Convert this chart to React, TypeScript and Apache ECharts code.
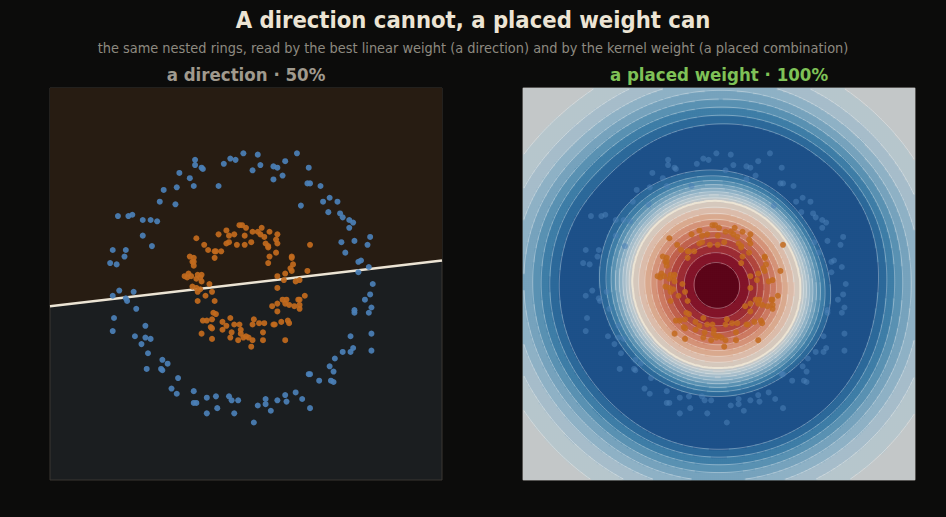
import React, { useEffect, useRef } from "react";
import * as echarts from "echarts";

const pageTitle = "A direction cannot, a placed weight can";
const pageSubtitle =
  "the same nested rings, read by the best linear weight (a direction) and by the kernel weight (a placed combination)";
const leftTitle = "a direction · 50%";
const rightTitle = "a placed weight · 100%";

const axisMin = -1.5;
const axisMax = 1.5;

// outer ring (class −1, blue)
const outerRing: [number, number][] = [
  [-0.02, 1.0], [0.09, 0.99], [0.39, 1.0], [-0.12, 0.96], [-0.08, 0.95], [-0.39, 0.95], [-0.39, 0.91],
  [-0.17, 0.92], [0.11, 0.91], [0.3, 0.94], [0.21, 0.9], [0.24, 0.89], [-0.34, 0.89], [-0.33, 0.88],
  [-0.51, 0.85], [0.05, 0.87], [0.28, 0.83], [0.48, 0.89], [-0.43, 0.81], [0.21, 0.8], [-0.4, 0.75],
  [-0.21, 0.75], [-0.53, 0.74], [-0.63, 0.72], [0.47, 0.77], [0.49, 0.77], [0.57, 0.75], [-0.66, 0.63],
  [-0.54, 0.61], [0.59, 0.63], [0.64, 0.66], [0.7, 0.63], [0.42, 0.6], [0.63, 0.55], [-0.98, 0.52],
  [-0.9, 0.52], [-0.87, 0.53], [-0.79, 0.49], [-0.73, 0.49], [-0.68, 0.48], [0.72, 0.54], [0.74, 0.51],
  [0.79, 0.49], [0.82, 0.47], [0.79, 0.43], [-0.79, 0.37], [-0.72, 0.29], [0.95, 0.36], [0.73, 0.32],
  [0.83, 0.33], [0.93, 0.3], [-1.02, 0.26], [-0.92, 0.26], [0.76, 0.24], [-0.93, 0.21], [-1.04, 0.16],
  [-0.99, 0.15], [0.86, 0.17], [0.88, 0.18], [0.94, 0.13], [0.86, 0.09], [0.97, 0.0], [-0.97, -0.05],
  [-0.86, -0.06], [-1.02, -0.09], [-0.92, -0.11], [-0.91, -0.13], [-0.84, -0.19], [0.95, -0.08],
  [0.91, -0.12], [0.96, -0.18], [0.83, -0.2], [0.83, -0.22], [0.94, -0.22], [-1.01, -0.26], [-1.02, -0.36],
  [-0.77, -0.32], [-0.85, -0.4], [-0.77, -0.41], [-0.73, -0.42], [-0.8, -0.46], [-0.75, -0.53], [0.8, -0.4],
  [0.96, -0.38], [0.96, -0.51], [0.82, -0.49], [0.8, -0.52], [0.74, -0.52], [0.68, -0.57], [-0.64, -0.58],
  [-0.6, -0.61], [-0.65, -0.65], [-0.64, -0.66], [-0.76, -0.65], [0.64, -0.63], [0.67, -0.67], [-0.52, -0.72],
  [0.48, -0.69], [0.49, -0.69], [0.56, -0.74], [0.65, -0.74], [0.67, -0.75], [-0.57, -0.8], [-0.53, -0.84],
  [-0.4, -0.82], [-0.3, -0.87], [-0.23, -0.86], [-0.13, -0.86], [-0.11, -0.89], [-0.06, -0.89], [-0.4, -0.91],
  [-0.38, -0.91], [-0.3, -0.99], [-0.22, -0.95], [-0.09, -0.99], [0.15, -0.88], [0.15, -0.92], [0.24, -0.89],
  [0.3, -0.85], [0.31, -0.9], [0.38, -0.83], [0.43, -0.88], [0.09, -0.93], [0.19, -0.97], [0.49, -0.95],
  [0.06, -1.06],
];

// inner ring (class +1, orange)
const innerRing: [number, number][] = [
  [-0.05, 0.45], [-0.03, 0.45], [0.0, 0.43], [0.12, 0.43], [-0.15, 0.41], [0.05, 0.4], [0.09, 0.4],
  [0.11, 0.38], [0.14, 0.36], [0.18, 0.4], [0.24, 0.38], [-0.38, 0.35], [-0.21, 0.38], [-0.13, 0.37],
  [-0.09, 0.38], [-0.01, 0.37], [0.23, 0.34], [0.24, 0.31], [-0.32, 0.3], [-0.15, 0.31], [-0.13, 0.32],
  [-0.07, 0.3], [-0.01, 0.3], [0.04, 0.32], [0.15, 0.31], [0.17, 0.29], [0.17, 0.28], [0.49, 0.3],
  [-0.29, 0.26], [-0.24, 0.25], [-0.23, 0.25], [-0.19, 0.25], [0.23, 0.24], [0.18, 0.21], [-0.24, 0.2],
  [-0.43, 0.21], [-0.4, 0.2], [-0.4, 0.17], [-0.41, 0.17], [-0.4, 0.14], [0.35, 0.21], [0.35, 0.2],
  [0.17, 0.16], [0.36, 0.15], [0.34, 0.12], [0.35, 0.1], [0.3, 0.08], [0.47, 0.1], [-0.44, 0.08],
  [-0.47, 0.06], [-0.45, 0.05], [-0.42, 0.06], [-0.37, 0.07], [-0.34, 0.07], [-0.35, 0.05], [-0.38, 0.04],
  [-0.34, 0.02], [-0.28, 0.0], [0.24, 0.06], [0.29, 0.03], [0.38, 0.02], [0.41, 0.03], [-0.41, -0.02],
  [-0.38, -0.03], [-0.35, -0.04], [-0.37, -0.06], [-0.26, -0.06], [-0.31, -0.09], [-0.37, -0.13],
  [-0.24, -0.13], [0.24, -0.03], [0.28, -0.12], [0.31, -0.12], [0.3, -0.15], [0.24, -0.15], [0.45, -0.09],
  [0.4, -0.12], [0.41, -0.12], [0.33, -0.16], [0.37, -0.17], [0.41, -0.16], [0.41, -0.19], [0.2, -0.17],
  [0.24, -0.21], [-0.25, -0.22], [-0.23, -0.23], [-0.33, -0.28], [-0.3, -0.28], [-0.26, -0.27],
  [-0.18, -0.29], [-0.12, -0.26], [-0.27, -0.33], [-0.26, -0.34], [-0.18, -0.35], [-0.15, -0.32],
  [-0.09, -0.31], [-0.05, -0.31], [0.06, -0.27], [0.05, -0.31], [0.1, -0.3], [0.14, -0.3], [0.21, -0.31],
  [0.22, -0.31], [0.27, -0.29], [0.32, -0.28], [0.33, -0.3], [-0.04, -0.35], [-0.04, -0.38], [-0.34, -0.38],
  [-0.26, -0.42], [-0.12, -0.41], [-0.11, -0.37], [-0.02, -0.41], [0.0, -0.4], [0.02, -0.41], [0.05, -0.43],
  [-0.06, -0.43], [0.13, -0.43], [0.13, -0.37], [0.3, -0.43], [0.04, -0.48],
];

// best linear boundary (left panel), endpoints at the axis edges
const linearBoundary: [number, number][] = [
  [-1.5, -0.17],
  [1.5, 0.18],
];

// kernel weight settings
const kernelGamma = 3.2;
const outerWeight = 1.7;
const kernelBias = 0;
const fieldCells = 196;
const negFloor = 1.04;

const bandEdges = [-1.1, -0.8, -0.7, -0.6, -0.5, -0.4, -0.3, -0.2, -0.1, 0, 0.1, 0.2, 0.3, 0.4, 0.5, 0.6, 0.7, 0.8, 0.9, 1.01];
const bandColors = [
  "#1e5089", "#2c699a", "#3f7ea7", "#5a91b2", "#77a3bd", "#8fb1c5", "#a6bdca", "#b7c6cc", "#c3c7c8",
  "#d5c8bd", "#dbbcaa", "#d9a98f", "#d49378", "#cc7b62", "#c0614d", "#b0463e", "#9c2c34", "#82142a", "#5c0519",
];
const contourLevels = [-0.8, -0.7, -0.6, -0.5, -0.4, -0.3, -0.2, -0.1, 0.1, 0.2, 0.3, 0.4, 0.5, 0.6, 0.7, 0.8, 0.9];

const BG = "#0c0c0b";
const BLUE = "#4b80b7";
const ORANGE = "#c26a1d";
const CREAM = "#ece4d4";
const FONT = '"DejaVu Sans Condensed", "DejaVu Sans", sans-serif';

function rawField(x: number, y: number) {
  let s = kernelBias;
  for (let k = 0; k < innerRing.length; k++) {
    const dx = x - innerRing[k][0];
    const dy = y - innerRing[k][1];
    s += Math.exp(-kernelGamma * (dx * dx + dy * dy));
  }
  for (let k = 0; k < outerRing.length; k++) {
    const dx = x - outerRing[k][0];
    const dy = y - outerRing[k][1];
    s -= outerWeight * Math.exp(-kernelGamma * (dx * dx + dy * dy));
  }
  return s;
}

function computeField() {
  const n = fieldCells;
  const step = (axisMax - axisMin) / n;
  const xs: number[] = [];
  for (let i = 0; i < n; i++) xs.push(axisMin + (i + 0.5) * step);
  const raw = new Float64Array(n * n);
  let fmax = -Infinity;
  let fmin = Infinity;
  for (let j = 0; j < n; j++) {
    for (let i = 0; i < n; i++) {
      const s = rawField(xs[i], xs[j]);
      raw[j * n + i] = s;
      if (s > fmax) fmax = s;
      if (s < fmin) fmin = s;
    }
  }
  const norm = new Float64Array(n * n);
  for (let k = 0; k < n * n; k++) {
    const v = raw[k];
    norm[k] = v >= 0 ? v / fmax : (v / -fmin) * negFloor;
  }
  return { xs, norm, n };
}

function contourSegments(f: Float64Array, xs: number[], n: number, level: number) {
  const segs: { coords: number[][] }[] = [];
  for (let j = 0; j < n - 1; j++) {
    for (let i = 0; i < n - 1; i++) {
      const a = f[j * n + i] - level;
      const b = f[j * n + i + 1] - level;
      const c = f[(j + 1) * n + i + 1] - level;
      const d = f[(j + 1) * n + i] - level;
      const x0 = xs[i], x1 = xs[i + 1], y0 = xs[j], y1 = xs[j + 1];
      const pts: number[][] = [];
      if (a < 0 !== b < 0) pts.push([x0 + ((x1 - x0) * a) / (a - b), y0]);
      if (b < 0 !== c < 0) pts.push([x1, y0 + ((y1 - y0) * b) / (b - c)]);
      if (d < 0 !== c < 0) pts.push([x0 + ((x1 - x0) * d) / (d - c), y1]);
      if (a < 0 !== d < 0) pts.push([x0, y0 + ((y1 - y0) * a) / (a - d)]);
      if (pts.length === 2) segs.push({ coords: [pts[0], pts[1]] });
      else if (pts.length === 4) {
        segs.push({ coords: [pts[0], pts[1]] });
        segs.push({ coords: [pts[2], pts[3]] });
      }
    }
  }
  return segs;
}

export default function App() {
  const ref = useRef<HTMLDivElement>(null);
  useEffect(() => {
    if (!ref.current) return;
    const chart = echarts.init(ref.current, undefined, { renderer: "svg" });
    const { xs, norm, n } = computeField();
    const heat: number[][] = [];
    for (let j = 0; j < n; j++) for (let i = 0; i < n; i++) heat.push([i, j, norm[j * n + i]]);
    let levelSegs: { coords: number[][] }[] = [];
    contourLevels.forEach((L) => {
      levelSegs = levelSegs.concat(contourSegments(norm, xs, n, L));
    });
    const zeroSegs = contourSegments(norm, xs, n, 0);
    const cats = xs.map((_, i) => String(i));
    const pieces = bandColors.map((color, k) => ({ gte: bandEdges[k], lt: bandEdges[k + 1], color }));

    const textEl = (text: string, x: number, y: number, size: number, weight: string, fill: string) => ({
      type: "text",
      x,
      y,
      silent: true,
      style: {
        text,
        fill,
        fontSize: size,
        fontWeight: weight,
        fontFamily: FONT,
        align: "center",
        verticalAlign: "middle",
        textAlign: "center",
        textVerticalAlign: "middle",
      },
    });

    chart.setOption({
      animation: false,
      backgroundColor: BG,
      graphic: [
        textEl(pageTitle, 473, 19.5, 23.6, "bold", CREAM),
        textEl(pageSubtitle, 473, 48, 14.4, "normal", "#8e8a80"),
        textEl(leftTitle, 246, 74, 18.5, "bold", "#a09a8e"),
        textEl(rightTitle, 719, 74, 18.5, "bold", "#7fc257"),
      ],
      grid: [
        { left: 50, top: 88, width: 392, height: 392, show: true, backgroundColor: "#1b1e20", borderColor: "#3b3732", borderWidth: 1 },
        { left: 523, top: 88, width: 392, height: 392, show: true, backgroundColor: "#c3c7c8", borderColor: "#4a4640", borderWidth: 1 },
      ],
      xAxis: [
        { type: "value", gridIndex: 0, min: axisMin, max: axisMax, show: false },
        { type: "category", gridIndex: 1, data: cats, show: false },
        { type: "value", gridIndex: 1, min: axisMin, max: axisMax, show: false },
      ],
      yAxis: [
        { type: "value", gridIndex: 0, min: axisMin, max: axisMax, show: false },
        { type: "category", gridIndex: 1, data: cats, show: false },
        { type: "value", gridIndex: 1, min: axisMin, max: axisMax, show: false },
      ],
      visualMap: {
        type: "piecewise",
        show: false,
        seriesIndex: 3,
        dimension: 2,
        pieces,
        outOfRange: { color: "rgba(0,0,0,0)" },
      },
      series: [
        {
          type: "line",
          xAxisIndex: 0,
          yAxisIndex: 0,
          data: linearBoundary,
          showSymbol: false,
          silent: true,
          lineStyle: { color: CREAM, width: 2.5 },
          areaStyle: { origin: "end", color: "#271c12", opacity: 1 },
          z: 1,
        },
        {
          type: "scatter",
          xAxisIndex: 0,
          yAxisIndex: 0,
          data: outerRing,
          symbolSize: 6,
          silent: true,
          itemStyle: { color: BLUE, opacity: 0.92 },
          z: 3,
        },
        {
          type: "scatter",
          xAxisIndex: 0,
          yAxisIndex: 0,
          data: innerRing,
          symbolSize: 6,
          silent: true,
          itemStyle: { color: ORANGE, opacity: 0.92 },
          z: 3,
        },
        {
          type: "heatmap",
          xAxisIndex: 1,
          yAxisIndex: 1,
          data: heat,
          progressive: 0,
          silent: true,
          emphasis: { disabled: true },
          z: 1,
        },
        {
          type: "lines",
          coordinateSystem: "cartesian2d",
          xAxisIndex: 2,
          yAxisIndex: 2,
          data: levelSegs,
          large: true,
          largeThreshold: 1,
          silent: true,
          lineStyle: { color: "rgba(255,255,255,0.4)", width: 0.8, opacity: 1 },
          z: 2,
        },
        {
          type: "lines",
          coordinateSystem: "cartesian2d",
          xAxisIndex: 2,
          yAxisIndex: 2,
          data: zeroSegs,
          large: true,
          largeThreshold: 1,
          silent: true,
          lineStyle: { color: CREAM, width: 2, opacity: 1 },
          z: 2,
        },
        {
          type: "scatter",
          xAxisIndex: 2,
          yAxisIndex: 2,
          data: outerRing,
          symbolSize: 6,
          silent: true,
          itemStyle: { color: BLUE, opacity: 0.55 },
          z: 3,
        },
        {
          type: "scatter",
          xAxisIndex: 2,
          yAxisIndex: 2,
          data: innerRing,
          symbolSize: 6,
          silent: true,
          itemStyle: { color: ORANGE, opacity: 0.85 },
          z: 3,
        },
      ],
    });
    return () => chart.dispose();
  }, []);
  return (
    <div
      ref={ref}
      style={{ position: "fixed", left: 0, top: 0, width: 946, height: 517, background: BG }}
    />
  );
}
